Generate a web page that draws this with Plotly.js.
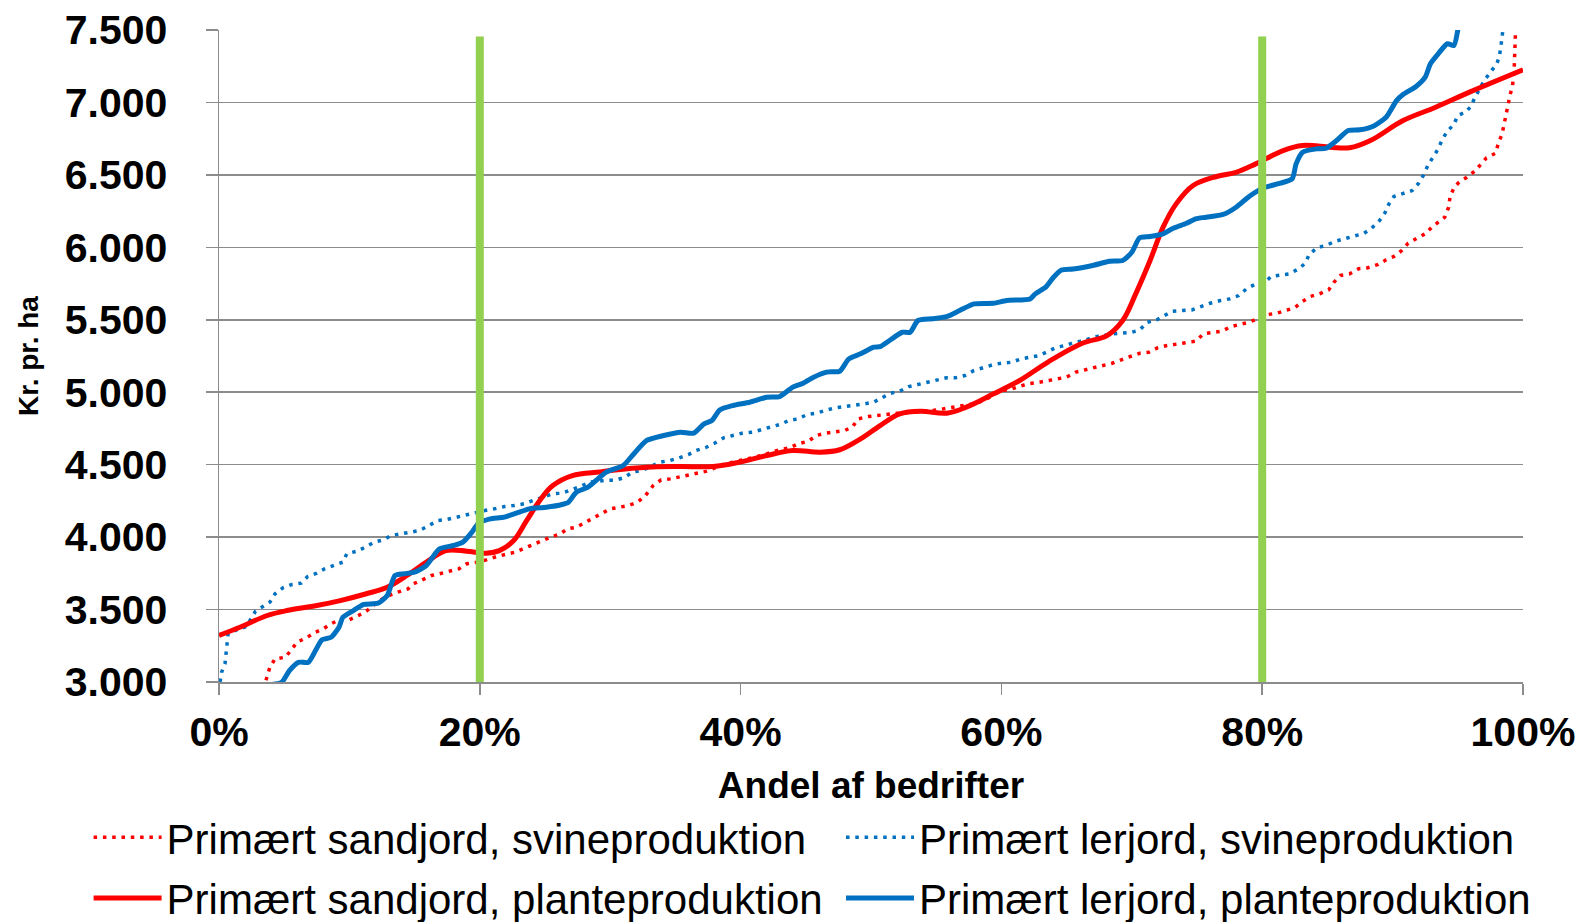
<!DOCTYPE html>
<html>
<head>
<meta charset="utf-8">
<script src="https://cdn.plot.ly/plotly-3.0.1.min.js"></script>
<style>
html,body{margin:0;padding:0;background:#fff;}
#chart{width:1586px;height:922px;}
</style>
</head>
<body>
<div id="chart"></div>
<script>
// ---- Data (x = andel af bedrifter in %, y = kr. pr. ha) ----
const seriesNames = [
  "Primært sandjord, svineproduktion",
  "Primært lerjord, svineproduktion",
  "Primært sandjord, planteproduktion",
  "Primært lerjord, planteproduktion"
];

const sandSvine = [
  [3.4,2950],[3.7,3053],[3.9,3102],[4.3,3160],[5.1,3171],[5.6,3229],[6.0,3275],[6.7,3305],[7.4,3344],[8.0,3367],
  [8.6,3402],[9.4,3437],[10.0,3430],[10.7,3459],[11.3,3489],[12.0,3540],[12.7,3585],[13.7,3620],[14.5,3643],[14.9,3677],
  [15.5,3700],[16.3,3735],[16.9,3747],[17.7,3765],[18.4,3781],[19.0,3816],[19.8,3827],[20.5,3843],[21.3,3866],[22.7,3896],
  [23.3,3919],[24.1,3949],[24.7,3972],[25.4,3999],[26.2,4023],[26.7,4057],[27.4,4068],[27.9,4092],[28.6,4126],[29.3,4161],
  [30.0,4195],[30.7,4206],[31.4,4218],[32.1,4241],[32.7,4287],[33.3,4356],[33.9,4395],[34.6,4402],[35.3,4414],[36.0,4425],
  [36.7,4441],[37.4,4455],[38.2,4483],[38.8,4506],[39.4,4517],[40.2,4534],[40.9,4547],[41.6,4563],[42.4,4586],[43.0,4603],
  [43.8,4617],[44.4,4644],[45.2,4662],[45.8,4701],[46.5,4717],[47.2,4724],[48.0,4736],[48.6,4763],[49.0,4816],[49.8,4832],
  [50.5,4839],[51.2,4851],[52.0,4855],[52.7,4858],[53.5,4862],[54.3,4869],[55.1,4878],[55.8,4888],[56.6,4897],[57.3,4908],
  [58.1,4924],[58.7,4946],[59.4,4984],[60.0,5012],[60.6,5017],[61.4,5039],[62.0,5058],[62.8,5067],[63.6,5081],[64.3,5093],
  [65.0,5104],[65.7,5139],[66.4,5155],[67.1,5170],[67.8,5185],[68.5,5200],[69.2,5224],[69.9,5247],[70.6,5269],[71.3,5276],
  [72.0,5307],[72.7,5322],[73.5,5334],[74.2,5345],[74.9,5352],[75.5,5403],[76.2,5414],[76.9,5421],[77.6,5453],[78.3,5467],
  [79.0,5483],[79.7,5510],[80.4,5536],[81.1,5545],[81.8,5564],[82.5,5583],[83.0,5621],[83.7,5661],[84.4,5679],[85.1,5707],
  [85.5,5759],[86.0,5806],[86.7,5817],[87.4,5852],[88.1,5859],[88.9,5882],[89.5,5914],[90.1,5937],[90.7,5978],[91.2,6029],
  [91.8,6059],[92.5,6093],[93.0,6139],[93.6,6178],[94.0,6208],[94.3,6277],[94.4,6346],[94.7,6411],[95.1,6450],[95.7,6484],
  [96.3,6526],[96.8,6576],[97.2,6618],[97.9,6650],[98.1,6715],[98.4,6784],[98.7,6910],[98.8,6979],[99.0,7048],[99.2,7117],
  [99.3,7186],[99.33,7248],[99.36,7317],[99.38,7386],[99.4,7450],[99.5,7700]
];

const lerSvine = [
  [0.08,3000],[0.2,3068],[0.46,3126],[0.54,3195],[0.6,3264],[0.7,3333],[1.36,3360],[2.1,3383],[2.8,3489],[3.4,3521],
  [3.9,3551],[4.3,3609],[4.9,3650],[5.6,3673],[6.3,3682],[6.8,3728],[7.5,3751],[8.1,3781],[8.8,3804],[9.5,3827],
  [9.8,3885],[10.6,3903],[11.2,3930],[11.9,3965],[12.6,3981],[13.2,4011],[14.0,4023],[14.7,4034],[15.4,4046],[16.1,4080],
  [16.8,4115],[17.5,4122],[18.2,4137],[18.9,4156],[19.7,4172],[20.4,4184],[21.1,4195],[21.9,4211],[22.6,4218],[23.4,4230],
  [24.1,4253],[24.8,4275],[25.6,4299],[26.3,4303],[27.0,4326],[27.7,4349],[28.4,4379],[29.7,4393],[30.4,4393],[31.1,4412],
  [31.7,4448],[32.5,4462],[33.8,4517],[34.6,4529],[35.3,4547],[36.0,4570],[36.6,4598],[37.3,4617],[38.0,4648],[38.7,4685],
  [39.4,4701],[40.1,4717],[40.9,4724],[41.6,4740],[42.3,4758],[43.0,4777],[43.7,4805],[44.4,4816],[45.1,4846],[45.8,4855],
  [46.5,4874],[47.2,4892],[48.0,4901],[48.8,4908],[49.5,4920],[50.2,4931],[50.9,4965],[51.5,4993],[52.2,5007],[52.9,5039],
  [53.6,5053],[54.3,5069],[55.1,5086],[55.8,5100],[56.5,5100],[57.2,5115],[57.9,5150],[58.6,5168],[59.4,5191],[60.0,5200],
  [60.8,5207],[61.5,5230],[62.2,5242],[62.9,5253],[63.6,5283],[64.2,5309],[65.0,5325],[65.6,5345],[66.4,5357],[67.0,5380],
  [67.8,5391],[68.5,5403],[69.2,5407],[70.0,5414],[70.6,5430],[71.2,5483],[71.9,5499],[72.5,5529],[73.1,5559],[73.9,5564],
  [74.6,5568],[75.3,5591],[76.0,5614],[76.8,5633],[77.5,5644],[78.2,5667],[78.8,5714],[79.4,5743],[80.1,5752],[80.7,5799],
  [81.4,5806],[82.1,5817],[82.8,5852],[83.3,5890],[83.6,5950],[84.2,5997],[84.9,6013],[85.6,6042],[86.3,6059],[87.0,6075],
  [87.8,6096],[88.4,6133],[89.0,6185],[89.4,6236],[89.7,6296],[90.1,6351],[90.8,6374],[91.5,6392],[92.0,6443],[92.4,6503],
  [92.7,6565],[93.1,6620],[93.5,6680],[93.8,6742],[94.2,6802],[94.7,6848],[95.0,6910],[95.6,6933],[96.0,6972],[96.3,7032],
  [96.7,7094],[97.0,7147],[97.5,7209],[98.0,7267],[98.2,7324],[98.3,7381],[98.4,7450],[98.6,7650]
];

const sandPlante = [
  [0,3321],[1.6,3378],[3.7,3459],[5.2,3493],[7.5,3528],[9.3,3562],[11.3,3609],[12.9,3654],[14.4,3735],[15.9,3827],
  [17.4,3907],[19.0,3903],[20.5,3889],[21.5,3907],[22.6,3976],[23.6,4115],[24.6,4253],[25.6,4356],[27.1,4425],[29.2,4450],
  [30.2,4462],[32.8,4483],[35.4,4487],[37.9,4487],[39.9,4517],[42.0,4563],[44.0,4598],[46.1,4586],[47.6,4603],[49.2,4678],
  [50.7,4770],[52.2,4851],[53.8,4869],[55.8,4855],[57.3,4897],[59.4,4989],[61.4,5081],[63.6,5210],[66.2,5338],[68.1,5391],
  [69.3,5495],[70.3,5679],[71.4,5909],[72.4,6139],[73.4,6300],[74.7,6427],[76.5,6489],[78.0,6518],[79.5,6576],[81.6,6668],
  [83.1,6703],[85.2,6691],[86.7,6687],[88.3,6737],[90.8,6875],[93.3,6967],[95.9,7071],[100,7225]
];

const lerPlante = [
  [3.8,2980],[4.8,2998],[5.4,3079],[6.1,3136],[6.85,3136],[7.4,3217],[7.9,3291],[8.6,3309],[9.2,3378],[9.5,3447],
  [10.3,3493],[11.1,3535],[12.2,3544],[12.9,3597],[13.5,3735],[14.2,3747],[15.0,3758],[15.9,3804],[16.9,3919],[18.0,3942],
  [18.7,3965],[19.4,4034],[19.9,4096],[20.8,4126],[21.8,4137],[22.8,4165],[23.8,4195],[25.1,4206],[26.3,4225],[26.8,4241],
  [27.4,4310],[28.3,4345],[29.7,4448],[31.0,4494],[31.7,4563],[32.8,4667],[34.1,4701],[35.4,4724],[36.4,4717],[37.2,4782],
  [37.8,4805],[38.4,4878],[39.4,4908],[40.7,4931],[42.0,4965],[43.0,4970],[44.0,5035],[44.8,5062],[45.6,5104],[46.6,5139],
  [47.6,5145],[48.3,5230],[49.2,5265],[50.2,5311],[50.7,5315],[51.5,5362],[52.4,5414],[53.0,5414],[53.6,5495],[54.7,5507],
  [55.8,5522],[56.8,5564],[57.9,5610],[59.4,5614],[60.4,5633],[62.2,5644],[62.6,5679],[63.4,5725],[64.0,5794],[64.6,5843],
  [65.5,5850],[67.0,5875],[68.3,5904],[69.3,5909],[70.0,5966],[70.6,6066],[71.4,6075],[72.4,6093],[73.1,6128],[74.2,6166],
  [74.9,6197],[75.7,6208],[77.0,6227],[78.0,6277],[79.0,6351],[80.1,6411],[81.4,6443],[82.3,6473],[82.6,6576],[83.1,6657],
  [84.2,6680],[84.9,6684],[85.7,6737],[86.6,6806],[87.5,6811],[88.6,6840],[89.5,6898],[90.3,7013],[90.8,7055],[91.8,7110],
  [92.5,7174],[92.9,7267],[93.5,7336],[94.2,7405],[94.7,7393],[95.0,7500],[95.3,7700]
];

// green marker lines at 20% and 80%
const markerX = [20, 80];
const markerY = [3000, 7455];

const xTickVals = [0, 20, 40, 60, 80, 100];
const xTickText = ['0%', '20%', '40%', '60%', '80%', '100%'];
const yRange = [3000, 7500];

// ---- Build ----
const FONT = 'Arial, "Liberation Sans", sans-serif';
const xs = a => a.map(p => p[0]);
const ys = a => a.map(p => p[1]);

const traces = [
  {x: xs(sandSvine), y: ys(sandSvine), name: seriesNames[0], mode: 'lines', legend: 'legend',
   legendgroup: 'a', line: {color: '#FF0000', width: 3.5, dash: '3.5px,5.8px'}},
  {x: xs(lerSvine), y: ys(lerSvine), name: seriesNames[1], mode: 'lines', legend: 'legend2',
   legendgroup: 'b', line: {color: '#0070C0', width: 3.5, dash: '3.5px,5.8px'}},
  {x: xs(sandPlante), y: ys(sandPlante), name: seriesNames[2], mode: 'lines', legend: 'legend',
   legendgroup: 'c', line: {color: '#FF0000', width: 5, shape: 'spline', smoothing: 1}},
  {x: xs(lerPlante), y: ys(lerPlante), name: seriesNames[3], mode: 'lines', legend: 'legend2',
   legendgroup: 'd', line: {color: '#0070C0', width: 5, shape: 'spline', smoothing: 0.6}}
];
markerX.forEach(mx => {
  traces.push({x: [mx, mx], y: markerY, mode: 'lines', showlegend: false, hoverinfo: 'skip',
    line: {color: '#92D050', width: 8}});
});

const legendCommon = {
  orientation: 'v', yanchor: 'middle', y: -0.2853, xanchor: 'left',
  font: {family: FONT, size: 42, color: '#000'}, itemwidth: 68,
  bgcolor: 'rgba(0,0,0,0)', traceorder: 'grouped', tracegroupgap: 3,
  maxheight: 300
};

const layout = {
  width: 1586, height: 922,
  margin: {l: 219, r: 63, t: 30, b: 240, autoexpand: false},
  paper_bgcolor: '#fff', plot_bgcolor: '#fff',
  separators: ',.',
  font: {family: FONT, color: '#000'},
  showlegend: true,
  legend: Object.assign({}, legendCommon, {x: -0.1}),
  legend2: Object.assign({}, legendCommon, {x: 0.477}),
  xaxis: {
    range: [0, 100], tickvals: xTickVals, ticktext: xTickText,
    showgrid: false, zeroline: false, showline: true, linecolor: '#8c8c8c', linewidth: 1.5,
    ticks: 'outside', ticklen: 11, tickwidth: 1.5, tickcolor: '#8c8c8c',
    tickfont: {family: FONT, size: 41, weight: 'bold', color: '#000'},
    ticklabelstandoff: 2,
    title: {text: 'Andel af bedrifter', font: {family: FONT, size: 37, weight: 'bold', color: '#000'}, standoff: 18}
  },
  yaxis: {
    range: yRange, dtick: 500, tickformat: ',d',
    showgrid: true, gridcolor: '#8c8c8c', gridwidth: 1.5, zeroline: false,
    showline: true, linecolor: '#8c8c8c', linewidth: 1.5,
    ticks: 'outside', ticklen: 12, tickwidth: 1.5, tickcolor: '#8c8c8c',
    tickfont: {family: FONT, size: 41, weight: 'bold', color: '#000'},
    ticklabelstandoff: 30,
    title: {text: 'Kr. pr. ha', font: {family: FONT, size: 28, weight: 'bold', color: '#000'}, standoff: 18}
  }
};

Plotly.newPlot('chart', traces, layout, {displayModeBar: false, staticPlot: true});
</script>
</body>
</html>
